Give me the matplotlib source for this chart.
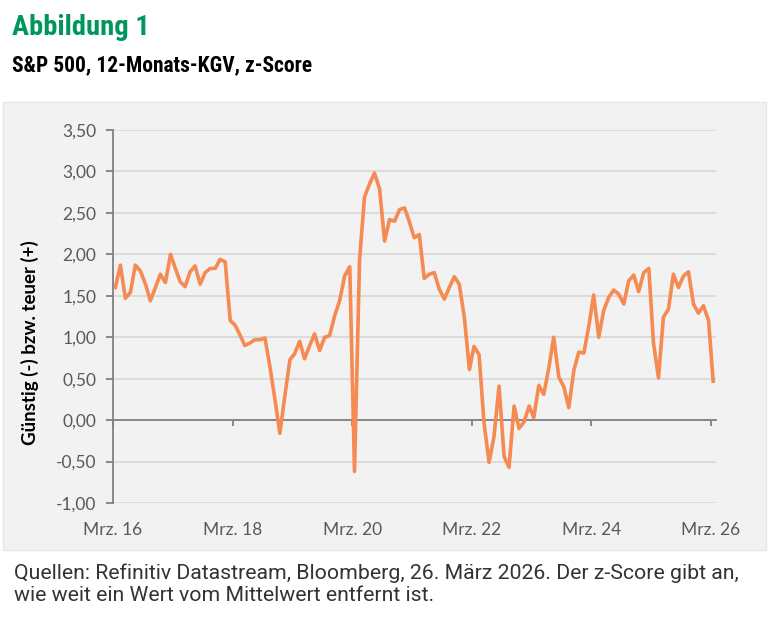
import matplotlib
matplotlib.use('Agg')
import matplotlib.pyplot as plt
import matplotlib.dates as mdates
from matplotlib.patches import Rectangle
from matplotlib.ticker import FuncFormatter
import pandas as pd

# Monatswerte März 2016 bis März 2026 (z-Score des 12-Monats-KGV)
datum = pd.date_range('2016-03-01', periods=121, freq='MS') + pd.Timedelta(days=14)
z_score = [
    1.60, 1.87, 1.47, 1.54, 1.87, 1.80, 1.64, 1.44, 1.60, 1.76, 1.66, 2.00,
    1.84, 1.67, 1.61, 1.79, 1.86, 1.64, 1.78, 1.83, 1.83, 1.94, 1.91, 1.20,
    1.15, 1.03, 0.90, 0.93, 0.97, 0.97, 0.99, 0.65, 0.25, -0.16, 0.30, 0.73,
    0.80, 0.95, 0.74, 0.90, 1.04, 0.84, 1.00, 1.02, 1.26, 1.44, 1.74, 1.85,
    -0.62, 1.94, 2.69, 2.85, 2.98, 2.79, 2.16, 2.42, 2.40, 2.54, 2.56, 2.38,
    2.20, 2.24, 1.71, 1.76, 1.78, 1.58, 1.46, 1.60, 1.73, 1.64, 1.24, 0.61,
    0.89, 0.79, -0.03, -0.51, -0.20, 0.41, -0.44, -0.57, 0.17, -0.10, -0.02, 0.17,
    0.03, 0.42, 0.31, 0.63, 1.00, 0.52, 0.40, 0.15, 0.60, 0.82, 0.81, 1.14,
    1.51, 1.00, 1.32, 1.48, 1.57, 1.52, 1.40, 1.68, 1.75, 1.55, 1.78, 1.83,
    0.94, 0.51, 1.24, 1.34, 1.76, 1.60, 1.74, 1.79, 1.40, 1.29, 1.38, 1.20,
    0.47,
]

x_ticks = pd.to_datetime(['2016-03-01', '2018-03-01', '2020-03-01',
                          '2022-03-01', '2024-03-01', '2026-03-01'])
x_labels = ['Mrz. 16', 'Mrz. 18', 'Mrz. 20', 'Mrz. 22', 'Mrz. 24', 'Mrz. 26']
y_ticks = [-1.0, -0.5, 0.0, 0.5, 1.0, 1.5, 2.0, 2.5, 3.0, 3.5]

titel = 'Abbildung 1'
untertitel = 'S&P 500, 12-Monats-KGV, z-Score'
y_titel = 'Günstig (-) bzw. teuer (+)'
quelle = ('Quellen: Refinitiv Datastream, Bloomberg, 26. März 2026. Der z-Score gibt an,\n'
          'wie weit ein Wert vom Mittelwert entfernt ist.')

schmal = ['Roboto Condensed', 'Roboto', 'DejaVu Sans']
achse = ['Lato', 'DejaVu Sans']
grau = '#595959'

fig = plt.figure(figsize=(7.69, 6.26), dpi=100)

# grauer Kasten hinter dem Diagramm
fig.patches.append(Rectangle((0.004, 0.1214), 0.992, 0.7157, transform=fig.transFigure,
                             facecolor='#f2f2f2', edgecolor='#e6e6e6', lw=1, zorder=-5))

ax = fig.add_axes([0.147, 0.1965, 0.784, 0.5958])
ax.set_facecolor('#f2f2f2')

ax.plot(mdates.date2num(datum), z_score, color='#F58A52', lw=2.6, solid_joinstyle='round', zorder=3)

ax.set_xlim(mdates.date2num(pd.Timestamp('2016-03-01')), mdates.date2num(pd.Timestamp('2026-04-01')))
ax.set_ylim(-1.0, 3.5)
ax.set_yticks(y_ticks)
ax.yaxis.set_major_formatter(FuncFormatter(lambda v, p: f'{v:.2f}'.replace('.', ',')))
ax.grid(axis='y', color='#d9d9d9', lw=1.3)
ax.set_axisbelow(True)

for s in ['top', 'right']:
    ax.spines[s].set_visible(False)
ax.spines['left'].set_color('#808080')
ax.spines['left'].set_linewidth(1.3)
ax.spines['bottom'].set_position(('data', 0))
ax.spines['bottom'].set_color('#808080')
ax.spines['bottom'].set_linewidth(1.3)
ax.spines['bottom'].set_zorder(2)

ax.set_xticks(mdates.date2num(x_ticks))
ax.tick_params(axis='x', direction='out', length=4, width=1.3, color='#808080', labelbottom=False)
ax.tick_params(axis='y', direction='out', length=5, width=1.3, color='#808080',
               labelcolor=grau, labelsize=12.5, pad=7)
for t in ax.get_yticklabels():
    t.set_family(achse)

sec = ax.secondary_xaxis('bottom')
sec.set_xticks(mdates.date2num(x_ticks))
sec.set_xticklabels(x_labels, family=achse, fontsize=12.5, color=grau)
sec.tick_params(length=0, pad=14)
sec.spines['bottom'].set_visible(False)

ax.set_ylabel(y_titel, family=achse, fontsize=13.5, fontweight='bold', color='black')
ax.yaxis.set_label_coords(-0.122, 0.43)

fig.text(0.016, 0.978, titel, family=schmal, fontsize=20.5, fontweight='bold',
         color='#00965E', va='top', ha='left')
fig.text(0.016, 0.913, untertitel, family=schmal, fontsize=15.5, fontweight='bold',
         color='black', va='top', ha='left')
fig.text(0.018, 0.100, quelle, family=['Roboto', 'DejaVu Sans'], fontsize=15.3,
         fontweight='normal', color='#333333', va='top', ha='left', linespacing=1.22)

fig.savefig('out.png', dpi=100)
